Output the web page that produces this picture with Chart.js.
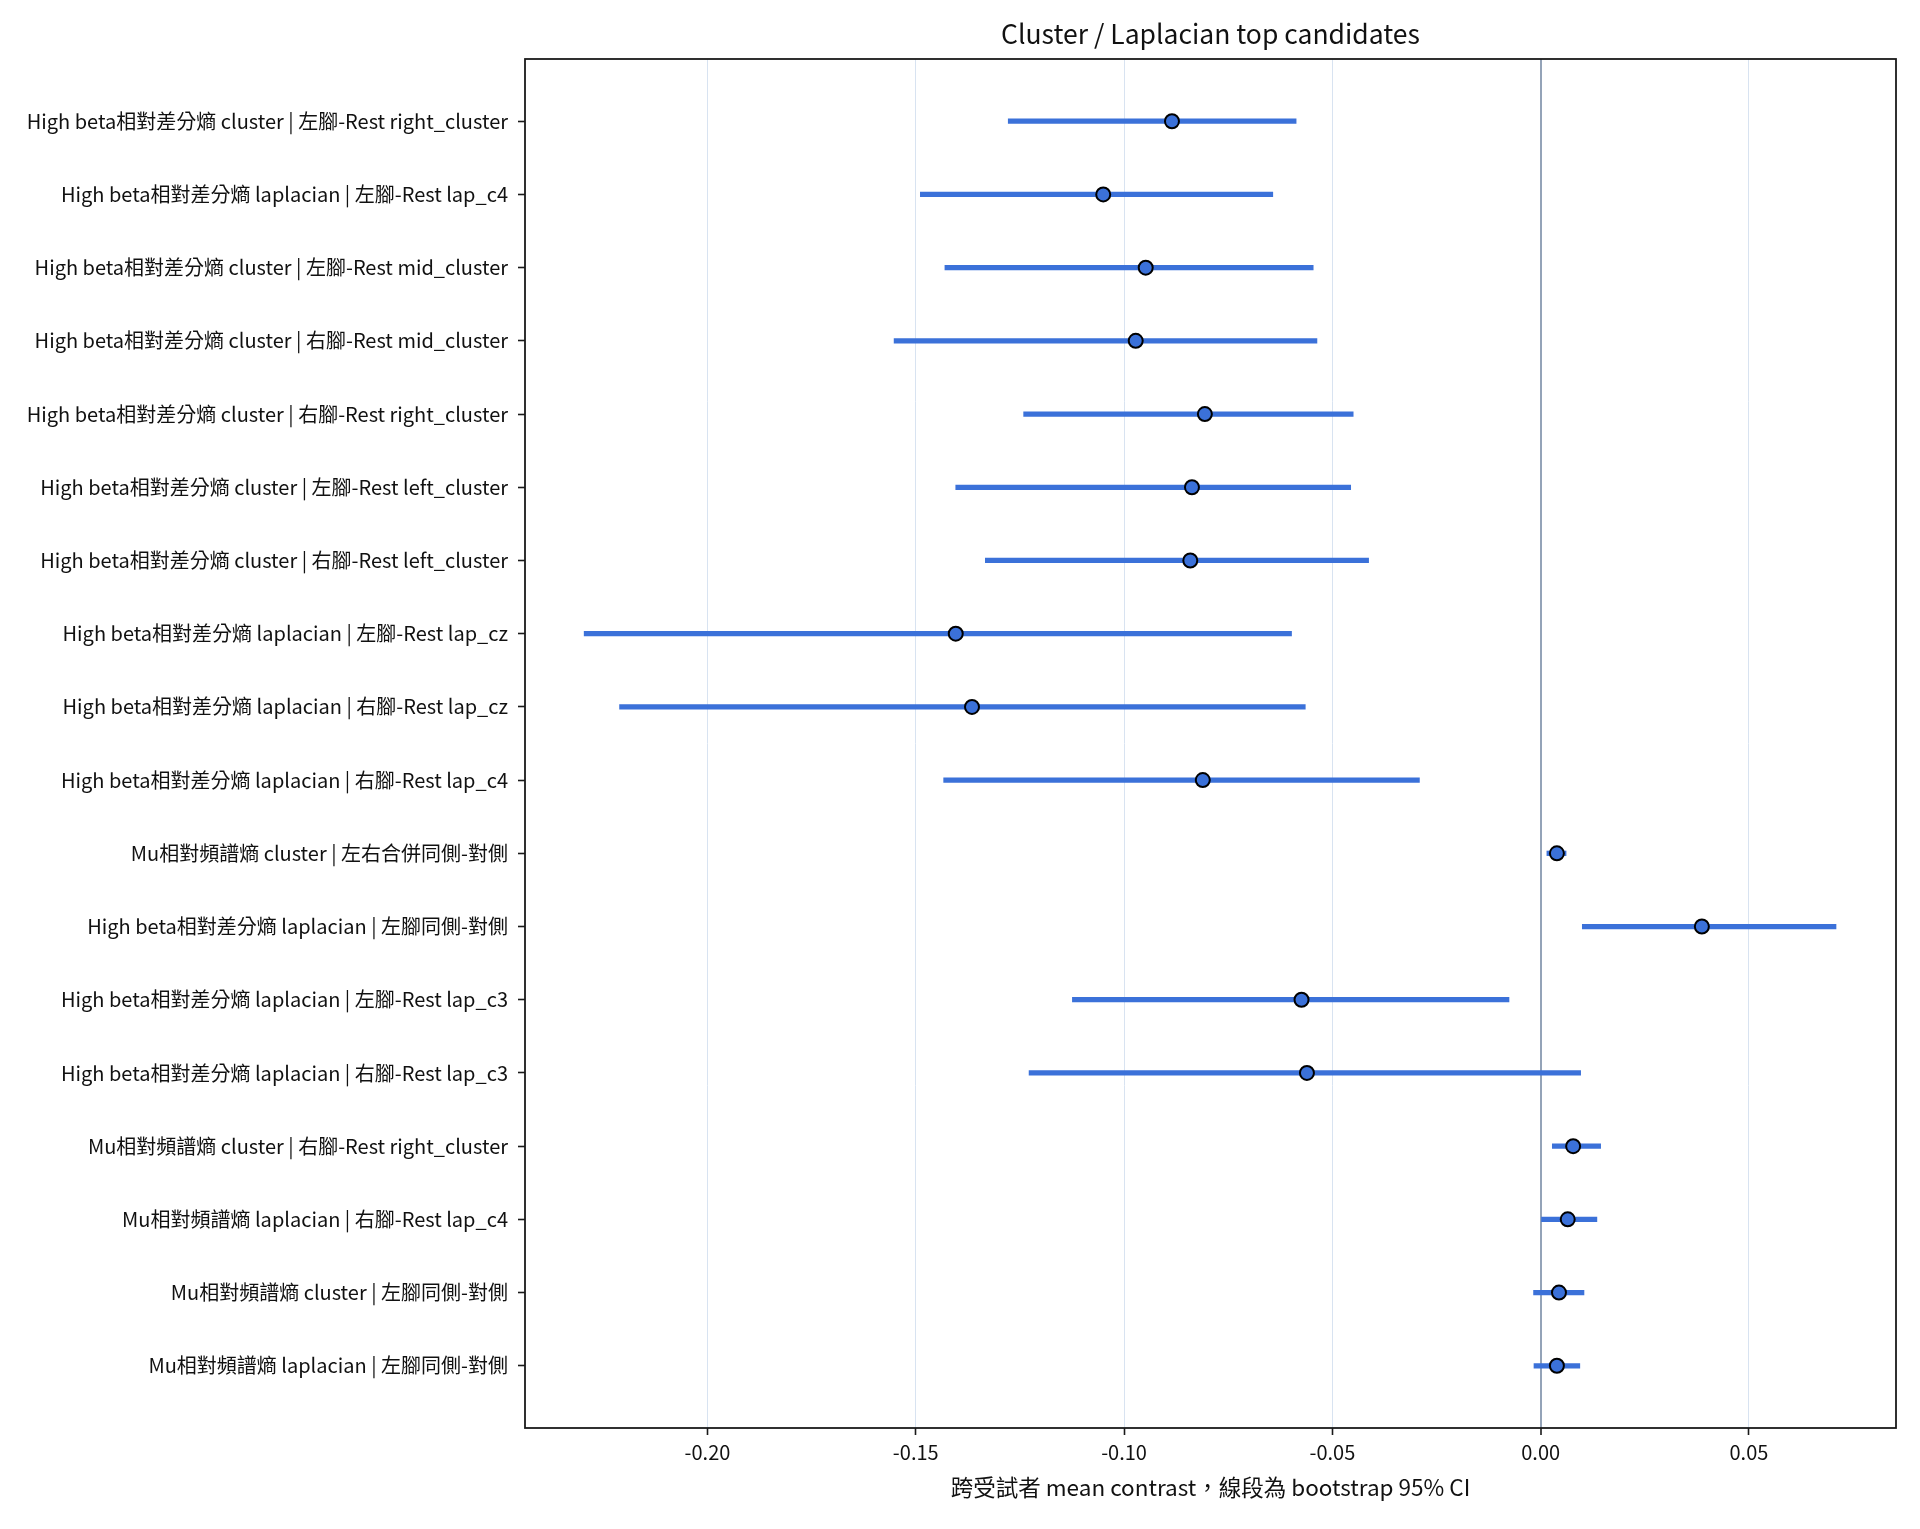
<!DOCTYPE html>
<html>
<head>
<meta charset="utf-8">
<script src="https://cdn.jsdelivr.net/npm/chart.js@4.4.1/dist/chart.umd.min.js"></script>
<style>
  html, body { margin: 0; padding: 0; background: #ffffff; }
  #wrap { width: 1920px; height: 1529px; }
</style>
</head>
<body>
<div id="wrap"><canvas id="c" width="1920" height="1529"></canvas></div>
<script>
const labels = [
  "High beta相對差分熵 cluster | 左腳-Rest right_cluster",
  "High beta相對差分熵 laplacian | 左腳-Rest lap_c4",
  "High beta相對差分熵 cluster | 左腳-Rest mid_cluster",
  "High beta相對差分熵 cluster | 右腳-Rest mid_cluster",
  "High beta相對差分熵 cluster | 右腳-Rest right_cluster",
  "High beta相對差分熵 cluster | 左腳-Rest left_cluster",
  "High beta相對差分熵 cluster | 右腳-Rest left_cluster",
  "High beta相對差分熵 laplacian | 左腳-Rest lap_cz",
  "High beta相對差分熵 laplacian | 右腳-Rest lap_cz",
  "High beta相對差分熵 laplacian | 右腳-Rest lap_c4",
  "Mu相對頻譜熵 cluster | 左右合併同側-對側",
  "High beta相對差分熵 laplacian | 左腳同側-對側",
  "High beta相對差分熵 laplacian | 左腳-Rest lap_c3",
  "High beta相對差分熵 laplacian | 右腳-Rest lap_c3",
  "Mu相對頻譜熵 cluster | 右腳-Rest right_cluster",
  "Mu相對頻譜熵 laplacian | 右腳-Rest lap_c4",
  "Mu相對頻譜熵 cluster | 左腳同側-對側",
  "Mu相對頻譜熵 laplacian | 左腳同側-對側"
];
const means  = [-0.0885, -0.1050, -0.0948, -0.0972, -0.0806, -0.0837, -0.0841, -0.1404, -0.1365, -0.0811, 0.0039, 0.0387, -0.0574, -0.0561, 0.0078, 0.0065, 0.0044, 0.0039];
const ciLow  = [-0.1278, -0.1489, -0.1430, -0.1552, -0.1241, -0.1404, -0.1333, -0.2296, -0.2211, -0.1433, 0.0015, 0.0100, -0.1124, -0.1228, 0.0028, 0.0002, -0.0017, -0.0016];
const ciHigh = [-0.0587, -0.0643, -0.0546, -0.0537, -0.0450, -0.0456, -0.0413, -0.0598, -0.0565, -0.0291, 0.0061, 0.0709, -0.0076, 0.0096, 0.0144, 0.0135, 0.0104, 0.0094];
const xTicks = [-0.20, -0.15, -0.10, -0.05, 0.00, 0.05];
const xMin = -0.2438, xMax = 0.0853;
const yMin = -0.85, yMax = labels.length - 1 + 0.85;

const FONT = "'Noto Sans CJK TC', 'Noto Sans', sans-serif";
const BLUE = '#3b71d9';
const TEXT = '#111111';

const boxPlugin = {
  id: 'box',
  afterDraw(chart) {
    const a = chart.chartArea, ctx = chart.ctx;
    ctx.save();
    ctx.strokeStyle = '#1a1a1a';
    ctx.lineWidth = 1.8;
    ctx.strokeRect(a.left, a.top, a.right - a.left, a.bottom - a.top);
    ctx.restore();
  }
};

new Chart(document.getElementById('c'), {
  type: 'bar',
  data: {
    datasets: [
      {
        type: 'bar',
        indexAxis: 'y',
        data: labels.map((l, i) => ({ y: i, x: [ciLow[i], ciHigh[i]] })),
        backgroundColor: BLUE,
        borderWidth: 0,
        barThickness: 4.6,
        order: 2
      },
      {
        type: 'scatter',
        data: labels.map((l, i) => ({ x: means[i], y: i })),
        backgroundColor: BLUE,
        borderColor: '#000000',
        borderWidth: 2,
        pointRadius: 7,
        pointHoverRadius: 7,
        order: 1
      }
    ]
  },
  options: {
    indexAxis: 'y',
    responsive: false,
    animation: false,
    devicePixelRatio: 1,
    layout: { padding: { left: 0, right: 24, top: 0, bottom: 0 } },
    plugins: {
      legend: { display: false },
      tooltip: { enabled: false },
      title: { display: false }
    },
    scales: {
      x: {
        type: 'linear',
        position: 'bottom',
        min: xMin,
        max: xMax,
        afterBuildTicks(scale) { scale.ticks = xTicks.map(v => ({ value: v })); },
        afterFit(scale) { scale.height = 101; },
        ticks: {
          color: TEXT,
          font: { family: FONT, size: 20 },
          padding: 5,
          autoSkip: false,
          maxRotation: 0,
          callback: (v) => Number(v).toFixed(2)
        },
        grid: {
          display: true,
          drawOnChartArea: true,
          drawTicks: true,
          tickLength: 7,
          tickColor: '#1a1a1a',
          tickWidth: 1.6,
          color: (ctx) => (ctx.tick && Math.abs(ctx.tick.value) < 1e-9) ? '#94a3b8' : '#d8e3f1',
          lineWidth: (ctx) => (ctx.tick && Math.abs(ctx.tick.value) < 1e-9) ? 2 : 1
        },
        border: { display: false },
        title: {
          display: true,
          text: '跨受試者 mean contrast，線段為 bootstrap 95% CI',
          color: TEXT,
          font: { family: FONT, size: 22.5 },
          padding: { top: 0, bottom: 28 }
        }
      },
      xTop: {
        type: 'linear',
        position: 'top',
        min: xMin,
        max: xMax,
        afterFit(scale) { scale.height = 59; },
        ticks: { display: false },
        grid: { display: false, drawTicks: false },
        border: { display: false },
        title: {
          display: true,
          text: 'Cluster / Laplacian top candidates',
          color: TEXT,
          font: { family: FONT, size: 26.5 },
          padding: { top: 18, bottom: 0 }
        }
      },
      y: {
        type: 'linear',
        position: 'left',
        reverse: true,
        offset: false,
        min: yMin,
        max: yMax,
        afterBuildTicks(scale) { scale.ticks = labels.map((l, i) => ({ value: i })); },
        afterFit(scale) { scale.width = 525; },
        ticks: {
          color: TEXT,
          font: { family: FONT, size: 20 },
          padding: 10,
          autoSkip: false,
          callback: (v) => labels[v]
        },
        grid: {
          display: true,
          offset: false,
          drawOnChartArea: false,
          drawTicks: true,
          tickLength: 7,
          tickColor: '#1a1a1a',
          tickWidth: 1.6
        },
        border: { display: false }
      }
    }
  },
  plugins: [boxPlugin]
});
</script>
</body>
</html>
